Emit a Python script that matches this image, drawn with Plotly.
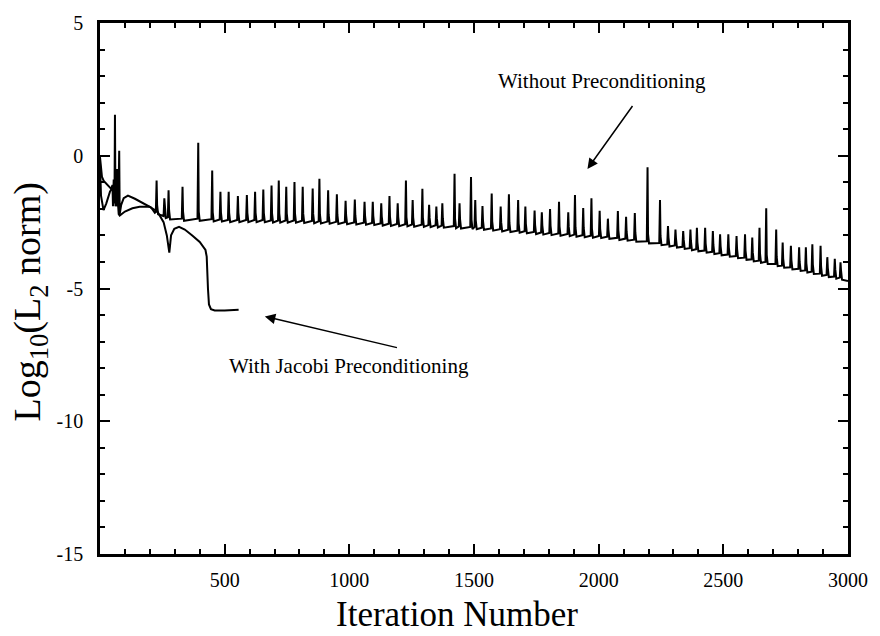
import plotly.graph_objects as go

# ---------------- data ----------------
# "Without Preconditioning": start-up transient
head_iter = [0, 3, 8, 15, 25, 35, 45, 50, 52, 55, 58, 60, 62, 64, 66, 68, 70, 72, 74, 77,
             79, 85, 95, 112, 140, 170, 205, 220]
head_val = [-0.05, -0.5, -0.8, -0.95, -1.05, -1.15, -1.25, -1.1, -1.9, -0.9, -1.8, 1.54,
            -1.9, -0.7, -1.8, -0.5, -1.9, -0.6, -1.7, 0.19, -2.2, -1.85, -1.6, -1.5,
            -1.62, -1.78, -1.95, -2.15]

# "Without Preconditioning": periodic restart spikes
spike_iter = [227, 258, 275, 331, 394, 450, 483, 516, 553, 589, 622, 655, 688, 717, 747,
              780, 813, 853, 880, 915, 950, 985, 1022, 1061, 1094, 1128, 1161, 1194, 1227,
              1254, 1293, 1320, 1349, 1373, 1422, 1442, 1488, 1505, 1534, 1571, 1607, 1640,
              1677, 1706, 1743, 1772, 1805, 1841, 1878, 1905, 1938, 1971, 2004, 2037, 2077,
              2110, 2145, 2196, 2246, 2278, 2308, 2339, 2368, 2394, 2427, 2458, 2487, 2520,
              2553, 2587, 2616, 2645, 2672, 2712, 2738, 2771, 2804, 2831, 2857, 2890, 2917,
              2947, 2970]
spike_peak = [-0.93, -1.6, -1.3, -1.17, 0.49, -0.56, -1.36, -1.36, -1.52, -1.48, -1.36,
              -1.27, -1.12, -0.93, -1.17, -0.99, -1.17, -1.23, -0.87, -1.30, -1.45, -1.7,
              -1.65, -1.73, -1.73, -1.79, -1.52, -1.79, -0.93, -1.67, -1.24, -1.85, -1.91,
              -1.79, -0.68, -1.79, -0.80, -1.67, -1.89, -1.42, -1.91, -1.45, -1.67, -1.91,
              -2.06, -2.13, -2.01, -1.73, -2.13, -1.48, -1.97, -1.60, -2.07, -2.37, -2.08,
              -2.3, -2.16, -0.43, -1.67, -2.65, -2.78, -2.84, -2.78, -2.71, -2.71, -2.84,
              -2.96, -2.96, -3.02, -2.96, -3.08, -2.71, -1.98, -2.78, -3.27, -3.39, -3.45,
              -3.45, -3.33, -3.39, -3.82, -3.88, -4.01]
spike_base = [-2.2, -2.35, -2.4, -2.45, -2.45, -2.47, -2.48, -2.5, -2.5, -2.5, -2.5, -2.5,
              -2.52, -2.52, -2.52, -2.52, -2.53, -2.54, -2.55, -2.56, -2.57, -2.58, -2.59,
              -2.6, -2.61, -2.63, -2.64, -2.65, -2.66, -2.67, -2.68, -2.69, -2.7, -2.71,
              -2.73, -2.74, -2.76, -2.77, -2.79, -2.82, -2.85, -2.87, -2.9, -2.92, -2.95,
              -2.97, -2.99, -3.01, -3.03, -3.05, -3.07, -3.09, -3.1, -3.13, -3.17, -3.2,
              -3.24, -3.3, -3.37, -3.42, -3.46, -3.51, -3.56, -3.6, -3.65, -3.7, -3.75,
              -3.8, -3.86, -3.92, -3.98, -4.03, -4.08, -4.16, -4.22, -4.28, -4.34, -4.4,
              -4.45, -4.52, -4.57, -4.63, -4.67]
end_iter = 3000
end_val = -4.72

# "With Jacobi Preconditioning"
jac_iter = [0, 4, 14, 25, 40, 50, 55, 60, 65, 70, 75, 79, 100, 130, 159, 198, 230, 255,
            268, 278, 285, 298, 317, 340, 370, 400, 423, 428, 433, 437, 445, 460, 500, 556]
jac_val = [-0.3, -1.5, -2.05, -1.8, -1.35, -1.2, -1.6, -1.3, -1.9, -1.5, -2.2, -2.25, -2.1,
           -1.98, -1.92, -1.92, -2.1, -2.5, -3.0, -3.65, -3.0, -2.75, -2.68, -2.78, -3.0,
           -3.25, -3.55, -3.8, -5.0, -5.6, -5.78, -5.83, -5.83, -5.8]

x_ticks = [500, 1000, 1500, 2000, 2500, 3000]
y_ticks = [-15, -10, -5, 0, 5]
y_ticktext = ["-15", "-10", "-5", "0", "5"]

# ---------------- build the "without" polyline ----------------
wx = list(head_iter)
wy = list(head_val)
for it, pk, bs in zip(spike_iter, spike_peak, spike_base):
    wx += [it - 3, it, it + 2, it + 6]
    wy += [bs + 0.08, pk, bs + 0.35, bs]
wx.append(end_iter)
wy.append(end_val)

FONT = "Liberation Serif, Times New Roman, serif"

fig = go.Figure()
fig.add_trace(go.Scatter(x=wx, y=wy, mode="lines", line=dict(color="black", width=2),
                         name="Without Preconditioning", showlegend=False))
fig.add_trace(go.Scatter(x=jac_iter, y=jac_val, mode="lines",
                         line=dict(color="black", width=2),
                         name="With Jacobi Preconditioning", showlegend=False))

axis_common = dict(showgrid=False, zeroline=False, showline=True, linecolor="black",
                   linewidth=2.5, mirror="ticks", ticks="inside", ticklen=10, tickwidth=2,
                   tickcolor="black", tickfont=dict(family=FONT, size=20, color="black"))

fig.update_xaxes(range=[0, 3000], tickvals=x_ticks, ticklabelstandoff=6,
                 minor=dict(dtick=100, ticks="inside", ticklen=5, tickwidth=1.5,
                            tickcolor="black"),
                 **axis_common)
fig.update_yaxes(range=[-15, 5], tickvals=y_ticks, ticktext=y_ticktext,
                 ticklabelstandoff=10,
                 minor=dict(dtick=1, ticks="inside", ticklen=5, tickwidth=1.5,
                            tickcolor="black"),
                 **axis_common)

annotations = [
    dict(text="Iteration Number", xref="paper", yref="paper", x=0.477, y=-0.113,
         xanchor="center", yanchor="middle", showarrow=False,
         font=dict(family=FONT, size=35, color="black")),
    dict(text="Log<sub>10</sub>(L<sub>2</sub> norm)", xref="paper", yref="paper",
         x=-0.094, y=0.475, xanchor="center", yanchor="middle", textangle=-90,
         showarrow=False, font=dict(family=FONT, size=38, color="black")),
    dict(text="Without Preconditioning", x=2012, y=2.82, xref="x", yref="y",
         showarrow=False, font=dict(family=FONT, size=21, color="black")),
    dict(text="With Jacobi Preconditioning", x=1000, y=-7.9, xref="x", yref="y",
         showarrow=False, font=dict(family=FONT, size=21, color="black")),
    dict(text="", x=1955, y=-0.5, ax=2140, ay=1.93, xref="x", yref="y", axref="x",
         ayref="y", showarrow=True, arrowhead=2, arrowsize=1.4, arrowwidth=1.5,
         arrowcolor="black", standoff=0, startstandoff=0),
    dict(text="", x=661, y=-6.05, ax=1197, ay=-7.24, xref="x", yref="y", axref="x",
         ayref="y", showarrow=True, arrowhead=2, arrowsize=1.4, arrowwidth=1.5,
         arrowcolor="black", standoff=0, startstandoff=0),
]

fig.update_layout(width=880, height=636, margin=dict(l=100, r=24, t=13, b=82),
                  plot_bgcolor="white", paper_bgcolor="white", showlegend=False,
                  annotations=annotations)

fig.write_html("out.html")
